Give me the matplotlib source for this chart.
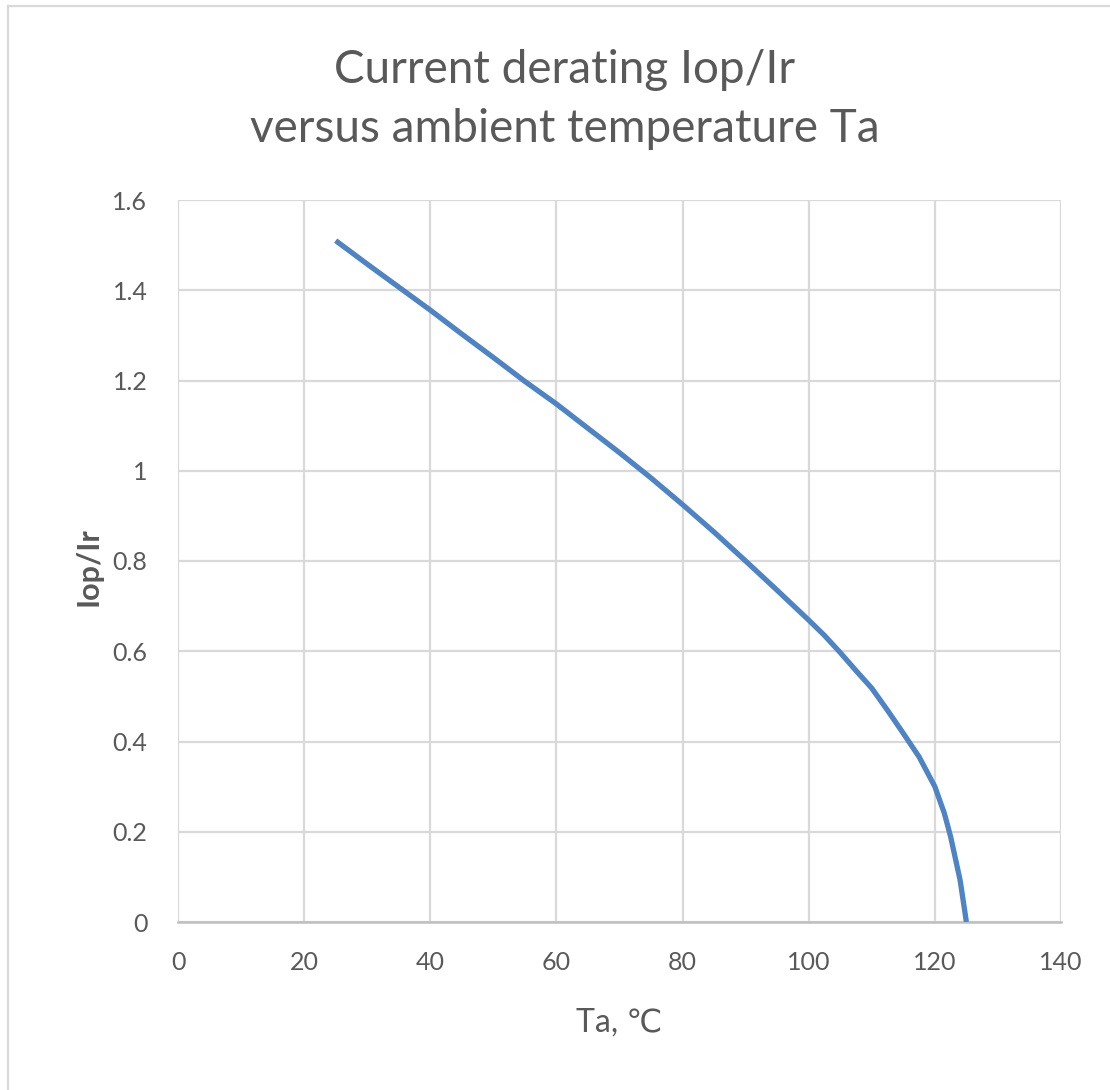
import matplotlib
matplotlib.use('Agg')
import matplotlib.pyplot as plt
from matplotlib.lines import Line2D

plt.rcParams['font.family'] = ['Lato', 'DejaVu Sans']

# 数据
ta = [25, 30, 35, 40, 45, 50, 55, 60, 65, 70, 75, 80, 85, 90, 95,
      100, 102.5, 105, 107.5, 110, 112.5, 115, 117.5, 120, 121.5, 122.5, 124, 125]
iop_ir = [1.51, 1.458, 1.407, 1.356, 1.303, 1.251, 1.198, 1.148, 1.094, 1.040, 0.984,
          0.925, 0.864, 0.800, 0.735,
          0.669, 0.635, 0.597, 0.557, 0.518, 0.469, 0.418, 0.366, 0.300, 0.241, 0.189, 0.093, 0.0]

x_ticks = [0, 20, 40, 60, 80, 100, 120, 140]
y_ticks = [0, 0.2, 0.4, 0.6, 0.8, 1.0, 1.2, 1.4, 1.6]
y_tick_labels = ['0', '0.2', '0.4', '0.6', '0.8', '1', '1.2', '1.4', '1.6']

text_color = '#595959'
grid_color = '#D9D9D9'
W, H = 1110, 1090

fig = plt.figure(figsize=(W / 100, H / 100), dpi=100)
ax = fig.add_axes([178 / W, 1 - 922 / H, (1061 - 178) / W, (922 - 200) / H])

ax.plot(ta, iop_ir, color='#4E83C4', linewidth=3.8, solid_capstyle='butt',
        solid_joinstyle='round', zorder=3)

ax.set_xlim(0, 140)
ax.set_ylim(0, 1.6)
ax.set_xticks(x_ticks)
ax.set_yticks(y_ticks)
ax.set_yticklabels(y_tick_labels)
ax.grid(True, color=grid_color, linewidth=1.6)
ax.set_axisbelow(True)
for side in ['top', 'right', 'left']:
    ax.spines[side].set_visible(False)
ax.spines['bottom'].set_color('#BFBFBF')
ax.spines['bottom'].set_linewidth(1.8)
ax.tick_params(axis='both', length=0, labelsize=18, labelcolor=text_color)
ax.tick_params(axis='x', pad=21)
ax.tick_params(axis='y', pad=22)

ax.set_xlabel('Ta, ℃', fontsize=23, color=text_color, labelpad=24)
ax.text(-0.101, 0.492, 'Iop/Ir', transform=ax.transAxes, rotation=90,
        ha='center', va='center', fontsize=22, fontweight='bold', color=text_color)

# 标题（两行）
fig.text(565 / W, 1 - 83 / H, 'Current derating Iop/Ir', ha='center', va='baseline',
         fontsize=33, color=text_color)
fig.text(565 / W, 1 - 142 / H, 'versus ambient temperature Ta', ha='center', va='baseline',
         fontsize=33, color=text_color)

# 外框
fig.add_artist(Line2D([8 / W, 8 / W], [0, 1 - 6 / H], color=grid_color, linewidth=1.6))
fig.add_artist(Line2D([8 / W, 1], [1 - 6 / H, 1 - 6 / H], color=grid_color, linewidth=1.6))

fig.savefig('out.png', dpi=100)
plt.close(fig)
